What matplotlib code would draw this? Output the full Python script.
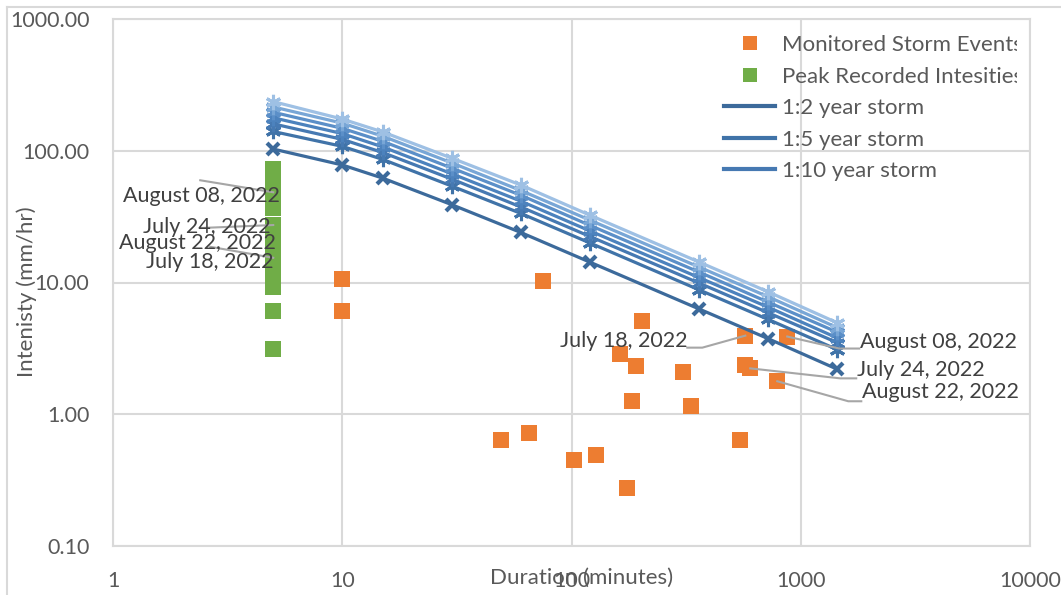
import matplotlib.pyplot as plt
import matplotlib.ticker as mticker
from matplotlib.lines import Line2D
from matplotlib.transforms import IdentityTransform, Bbox, TransformedBbox

plt.rcParams['font.family'] = ['Lato', 'DejaVu Sans']

# IDF curves (duration in minutes, intensity in mm/hr)
durations = [5, 10, 15, 30, 60, 120, 360, 720, 1440]
storm_names = ['1:2 year storm', '1:5 year storm', '1:10 year storm',
               '1:25 year storm', '1:50 year storm', '1:100 year storm',
               '1:200 year storm']
idf_2 = [103, 78, 62, 39, 24, 14.3, 6.3, 3.75, 2.2]
idf_5 = [140, 108, 86, 54, 33.5, 20.0, 8.8, 5.25, 3.1]
idf_10 = [160, 122, 97, 61, 37.5, 22.4, 9.9, 5.9, 3.5]
idf_25 = [178, 135, 107, 67, 41.5, 24.7, 10.9, 6.5, 3.8]
idf_50 = [196, 148, 118, 74, 46, 27.2, 12.0, 7.1, 4.2]
idf_100 = [215, 162, 129, 81, 50, 29.8, 13.1, 7.8, 4.55]
idf_200 = [236, 174, 139, 88, 55, 32.5, 14.3, 8.5, 4.95]

# monitored storm events
event_dur = [10, 10, 75, 204, 162, 192, 305, 183, 333, 49.5, 65, 103, 128.5,
             174, 573, 573, 602, 790, 873, 545]
event_int = [10.6, 6.1, 10.3, 5.13, 2.89, 2.31, 2.11, 1.25, 1.15, 0.636, 0.718,
             0.449, 0.49, 0.276, 3.95, 2.35, 2.23, 1.78, 3.89, 0.636]

# peak recorded intensities
peak_dur = [5, 5, 5, 5, 5, 5, 5, 5, 5, 5, 5, 5, 5, 5, 5]
peak_int = [72.3, 57.7, 48.4, 42.2, 36.7, 27.3, 21.0, 17.7, 15.4, 13.7, 12.5,
            10.5, 9.3, 6.1, 3.15]

# data labels: (duration, intensity, text)
peak_labels = [(5, 48.4, 'August 08, 2022'), (5, 27.3, 'July 24, 2022'),
               (5, 15.4, 'August 22, 2022'), (5, 13.7, 'July 18, 2022')]
event_labels = [(573, 3.95, 'July 18, 2022'), (873, 3.89, 'August 08, 2022'),
                (602, 2.23, 'July 24, 2022'), (790, 1.78, 'August 22, 2022')]

W, H = 1061, 595
fig = plt.figure(figsize=(W / 100, H / 100), dpi=100)
ax = fig.add_axes([113 / W, 1 - 546 / H, (1030 - 113) / W, (546 - 19) / H])
ax.set_xscale('log')
ax.set_yscale('log')
ax.set_xlim(1, 10000)
ax.set_ylim(0.1, 1000)

grid_c = '#D9D9D9'
txt_c = '#595959'
lbl_c = '#404040'
fs = 16
lfs = 15.5

ax.grid(True, which='major', color=grid_c, lw=1.5)
ax.set_axisbelow(True)
for s in ax.spines.values():
    s.set_color(grid_c)
    s.set_linewidth(1.5)
ax.xaxis.set_major_locator(mticker.LogLocator(base=10, numticks=10))
ax.yaxis.set_major_locator(mticker.LogLocator(base=10, numticks=10))
ax.xaxis.set_minor_locator(mticker.NullLocator())
ax.yaxis.set_minor_locator(mticker.NullLocator())
ax.xaxis.set_major_formatter(mticker.FuncFormatter(lambda v, p: '%d' % round(v)))
ax.yaxis.set_major_formatter(mticker.FuncFormatter(lambda v, p: '%.2f' % v))
ax.tick_params(axis='both', length=0, labelsize=15.5, labelcolor=txt_c)
ax.tick_params(axis='x', pad=18)
ax.tick_params(axis='y', pad=17)

sq = 11.5
ax.plot(event_dur, event_int, 's', color='#ED7D31', ms=sq, mew=0, zorder=3)
ax.plot(peak_dur, peak_int, 's', color='#70AD47', ms=sq, mew=0, zorder=3)

series = [idf_2, idf_5, idf_10, idf_25, idf_50, idf_100, idf_200]
colors = ['#3C6A9B', '#4073A8', '#4679B2', '#4C82BD', '#5B8FC8', '#78A6D6', '#9EC0E4']
for i, vals in enumerate(series):
    if i == 0:
        ax.plot(durations, vals, '-', color=colors[i], lw=2.3, marker='x', ms=9,
                mew=3, zorder=4)
    else:
        ax.plot(durations, vals, '-', color=colors[i], lw=2.3, marker=(6, 2, 0),
                ms=11, mew=2.2, zorder=4)

# legend (only the first entries fit, as in the original)
handles = [Line2D([], [], ls='none', marker='s', color='#ED7D31', ms=10, mew=0),
           Line2D([], [], ls='none', marker='s', color='#70AD47', ms=10, mew=0)]
handles += [Line2D([], [], color=c, lw=3) for c in colors[:3]]
names = ['Monitored Storm Events', 'Peak Recorded Intesities'] + storm_names[:3]
leg = ax.legend(handles, names, loc='upper left',
                bbox_to_anchor=(724 / W, 1 - 35 / H), bbox_transform=fig.transFigure,
                frameon=False, fontsize=fs, handlelength=2.3, handletextpad=0.3,
                labelspacing=0.52, borderaxespad=0, borderpad=0)
clipbox = TransformedBbox(Bbox([[0, 0], [1017 / W, 1]]), fig.transFigure)
for t in leg.get_texts():
    t.set_color(txt_c)
    t.set_clip_on(True)
    t.set_clip_box(clipbox)

fig.canvas.draw()


def put_label(x, y, text, pts, tx, ty, ha):
    px, py = ax.transData.transform((x, y))
    if pts:
        xs = [px] + [px + dx for dx, dy in pts]
        ys = [py] + [py + dy for dx, dy in pts]
        fig.add_artist(Line2D(xs, ys, transform=IdentityTransform(),
                              color='#A6A6A6', lw=1.5, zorder=5))
    fig.text(px + tx, py + ty, text, transform=IdentityTransform(), ha=ha,
             va='center', fontsize=lfs, color=lbl_c, zorder=6)


peak_layout = [([(-73, 12)], 7, -4), ([(-73, -3)], -3, -2),
               ([(-63, 11)], 3, 15), ([], 0, 2)]
for (x, y, t), (pts, tx, ty) in zip(peak_labels, peak_layout):
    put_label(x, y, t, pts, tx, ty, 'right')

event_layout = [([(-43, -12), (-58, -12)], -58, -5, 'right'),
                ([(52, -12), (72, -12)], 73, -5, 'left'),
                ([(90, -10), (106, -10)], 107, -2, 'left'),
                ([(71, -20), (84, -20)], 85, -11, 'left')]
for (x, y, t), (pts, tx, ty, ha) in zip(event_labels, event_layout):
    put_label(x, y, t, pts, tx, ty, ha)

fig.text(582 / W, 1 - 578 / H, 'Duration (minutes)', ha='center', va='center',
         fontsize=fs, color=txt_c)
fig.text(27 / W, 1 - 292 / H, 'Intenisty (mm/hr)', ha='center', va='center',
         rotation=90, fontsize=fs, color=txt_c)

# chart border (left and top edges visible)
fig.add_artist(Line2D([7 / W, 7 / W], [0, 1 - 7 / H], transform=fig.transFigure,
                      color=grid_c, lw=1.5))
fig.add_artist(Line2D([7 / W, 1], [1 - 7 / H, 1 - 7 / H], transform=fig.transFigure,
                      color=grid_c, lw=1.5))

fig.savefig('out.png', dpi=100)
